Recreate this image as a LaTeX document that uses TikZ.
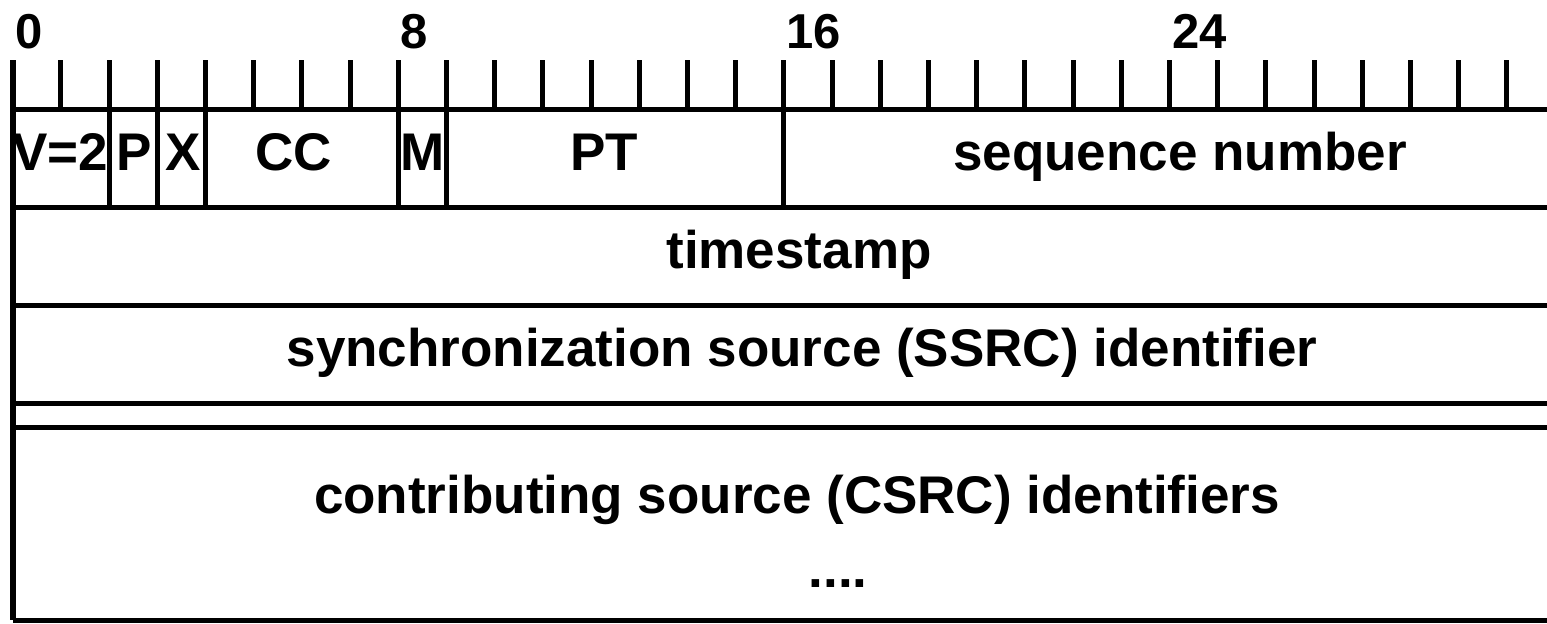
\documentclass[tikz,border=0pt]{standalone}
\usepackage{fontspec}
\setmainfont{Liberation Sans}

\begin{document}
\begin{tikzpicture}[x=0.5pt, y=-0.5pt, line width=2.5pt,
    field/.style={anchor=base, inner sep=0pt, font=\fontsize{26.5}{30}\selectfont\bfseries},
    bitnum/.style={anchor=base west, inner sep=0pt, font=\fontsize{24.5}{28}\selectfont\bfseries}]
    \clip (0,0) rectangle (1547,623);

    % Bit ruler
    \foreach \b in {1,...,31}
        \draw (12.7+48.2*\b,60) -- (12.7+48.2*\b,109);
    \node[bitnum] (bit0)  at (12.7,48)  {0};
    \node[bitnum] (bit8)  at (398.3,48) {8};
    \node[bitnum] (bit16) at (784,48)   {16};
    \node[bitnum] (bit24) at (1169.5,48) {24};

    % Frame
    \draw[line width=2.8pt] (12.7,60) -- (12.7,620);
    \foreach \y in {109,207,305,403,427,620}
        \draw (12.7,\y) -- (1560,\y);

    % First word: field borders
    \foreach \b in {2,3,4,8,9,16}
        \draw (12.7+48.2*\b,109) -- (12.7+48.2*\b,207);

    % First word: field names
    \node[field] (v)   at (60,170)   {V=2};
    \node[field] (p)   at (134,170)  {P};
    \node[field] (x)   at (183,170)  {X};
    \node[field] (cc)  at (294,170)  {CC};
    \node[field] (m)   at (423,170)  {M};
    \node[field] (pt)  at (604,170)  {PT};
    \node[field] (seq) at (1180,170) {sequence number};

    % Remaining words
    \node[field] (ts)   at (799,268) {timestamp};
    \node[field] (ssrc) at (802,366) {synchronization source (SSRC) identifier};
    \node[field] (csrc) at (797,513) {contributing source (CSRC) identifiers};
    \node[field] (dots) at (838,587) {....};
\end{tikzpicture}
\end{document}
